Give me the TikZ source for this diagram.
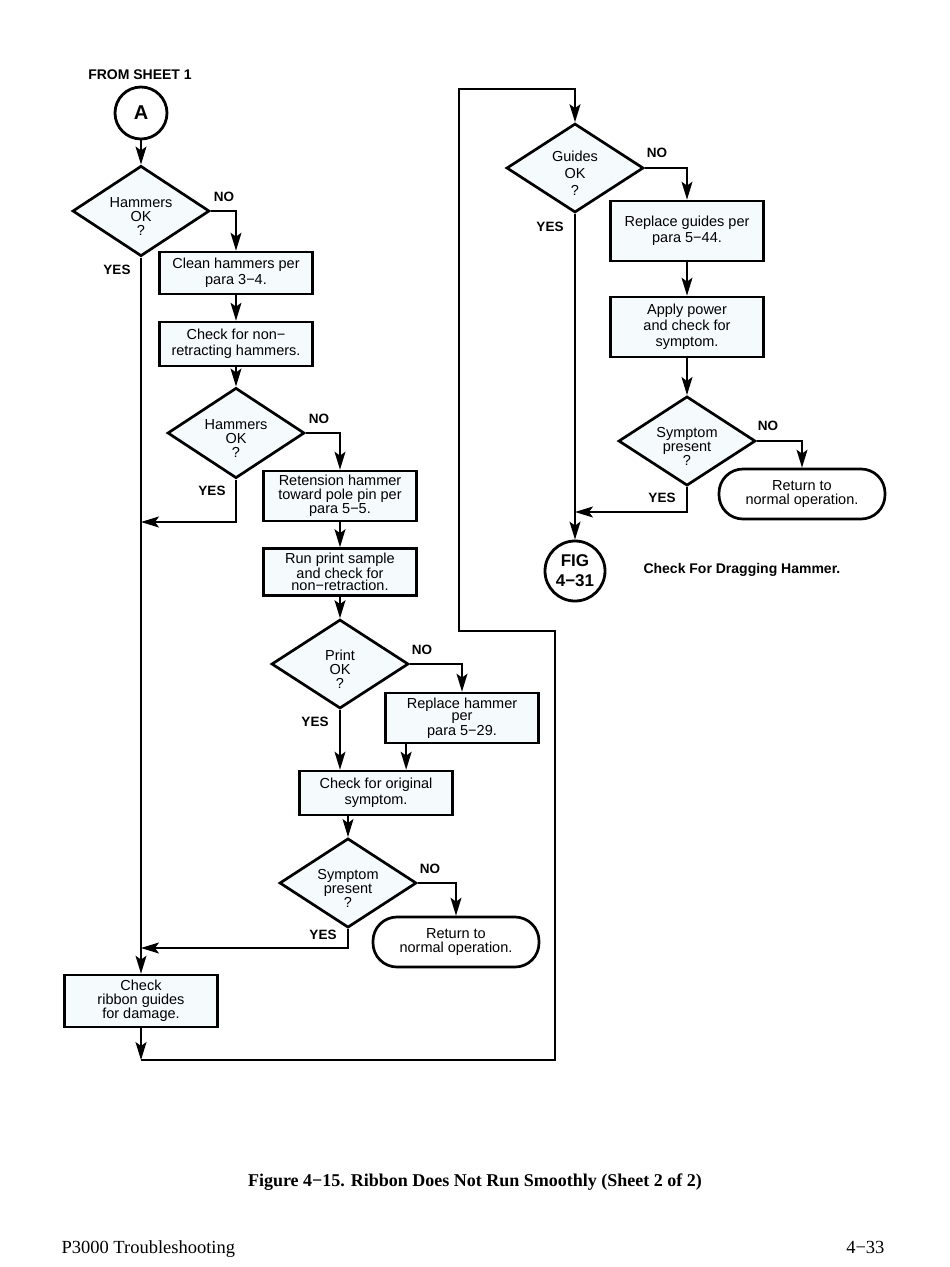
\documentclass[tikz,border=0pt]{standalone}
\usepackage{fontspec}
\setmainfont{Liberation Serif}
\setsansfont{Liberation Sans}
\usetikzlibrary{shapes.geometric,arrows.meta,calc}
\definecolor{boxfill}{RGB}{245,250,252}
\newcommand\fsz[2]{\fontsize{#1}{#2}\selectfont}
\newcommand\dtop{\rule{0pt}{20.5pt}}
\begin{document}
\begin{tikzpicture}[x=1pt,y=-1pt,
  every node/.style={font=\sffamily\fsz{14.5}{14.5}, align=center},
  proc/.style={draw, line width=2.7pt, fill=boxfill, inner sep=0pt, minimum width=153pt},
  dec/.style={draw, diamond, line width=2.7pt, fill=boxfill, inner sep=0pt, minimum width=137pt, minimum height=89pt, aspect=1.5, font=\sffamily\fsz{14.5}{14}},
  term/.style={draw, line width=2.7pt, fill=white, rounded corners=24pt, inner sep=0pt, minimum width=166pt, minimum height=50pt},
  lab/.style={font=\sffamily\bfseries\fsz{13.5}{14}},
  conn/.style={line width=1.4pt},
  arr/.style={conn, -{Stealth[length=18pt,width=11pt,inset=4pt]}},
]
\fill[white] (0,0) rectangle (950,1267);
\useasboundingbox (0,0) rectangle (950,1267);

% left column
\node[lab, font=\sffamily\bfseries\fsz{14}{14}] (from) at (140,75) {FROM SHEET 1};
\node[circle, draw, line width=2.8pt, minimum size=52pt, inner sep=0pt, font=\sffamily\bfseries\fsz{20}{20}] (A) at (141,113) {A};
\node[dec] (d1) at (141,211) {\dtop Hammers\\OK\\?};
\node[proc, minimum height=42pt, font=\sffamily\fsz{14.5}{16}] (b1) at (236,273) {Clean hammers per\\para 3−4.};
\node[proc, minimum height=44pt, font=\sffamily\fsz{14.5}{16}] (b2) at (236,344) {Check for non−\\retracting hammers.};
\node[dec] (d2) at (236,433) {\dtop Hammers\\OK\\?};
\node[proc, minimum height=50pt, font=\sffamily\fsz{14.5}{14}] (b3) at (340,496) {Retension hammer\\toward pole pin per\\para 5−5.};
\node[proc, minimum height=47pt, font=\sffamily\fsz{14.5}{12}] (b4) at (340,572) {Run print sample\\and check for\\non−retraction.};
\node[dec] (d3) at (340,664) {\dtop Print\\OK\\?};
\node[proc, minimum height=50pt, font=\sffamily\fsz{14.5}{12.5}] (b5) at (462,718) {Replace hammer\\per\\para 5−29.};
\node[proc, minimum height=44pt, font=\sffamily\fsz{14.5}{16}] (b6) at (376,793) {Check for original\\symptom.};
\node[dec] (d4) at (348,883) {\dtop Symptom\\present\\?};
\node[term, font=\sffamily\fsz{14.5}{13.5}] (t1) at (456,942) {Return to\\normal operation.};
\node[proc, minimum height=52pt, font=\sffamily\fsz{14.5}{13.5}] (b7) at (141,1001) {Check\\ribbon guides\\for damage.};

% right column
\node[dec, font=\sffamily\fsz{14.5}{17}] (g) at (575,168) {\dtop Guides\\OK\\?};
\node[proc, minimum height=60pt, font=\sffamily\fsz{14.5}{16}] (b8) at (687,231) {Replace guides per\\para 5−44.};
\node[proc, minimum height=60pt, font=\sffamily\fsz{14.5}{16}] (b9) at (687,327) {Apply power\\and check for\\symptom.};
\node[dec] (d5) at (687,441) {\dtop Symptom\\present\\?};
\node[term, font=\sffamily\fsz{14.5}{13.5}] (t2) at (802,494) {Return to\\normal operation.};
\node[circle, draw, line width=2.8pt, minimum size=60pt, inner sep=0pt, font=\sffamily\bfseries\fsz{17}{20}] (fig) at (575,571) {FIG\\4−31};
\node[lab, font=\sffamily\bfseries\fsz{14}{14}, anchor=west] (figlab) at (640,570) {Check For Dragging Hammer.};

% yes / no labels
\node[lab] (n1) at (224,197) {NO};
\node[lab] (y1) at (117,270) {YES};
\node[lab] (n2) at (319,419) {NO};
\node[lab] (y2) at (212,491) {YES};
\node[lab] (n3) at (422,650) {NO};
\node[lab] (y3) at (315,722) {YES};
\node[lab] (n4) at (430,869) {NO};
\node[lab] (y4) at (323,935) {YES};
\node[lab] (n5) at (657,153) {NO};
\node[lab] (y5) at (550,227) {YES};
\node[lab] (n6) at (768,426) {NO};
\node[lab] (y6) at (662,498) {YES};

% coordinates
\coordinate (j1) at (141,522);
\coordinate (j2) at (141,948);
\coordinate (j3) at (575,512);
\coordinate (c1) at (141,1060);
\coordinate (c2) at (555,1060);
\coordinate (c3) at (555,631);
\coordinate (c4) at (459,631);
\coordinate (c5) at (459,89);
\coordinate (c6) at (575,89);

% connectors
\draw[arr] (A) -- (d1);
\draw[arr] (d1.east) -| (b1.north);
\draw[arr] (d1.south) -- (b7.north);
\draw[arr] (b1) -- (b2);
\draw[arr] (b2) -- (d2);
\draw[arr] (d2.east) -| (b3.north);
\draw[arr] (d2.south) |- (j1);
\draw[arr] (b3) -- (b4);
\draw[arr] (b4) -- (d3);
\draw[arr] (d3.east) -| (b5.north);
\draw[arr] (d3.south) -- (d3.south |- b6.north);
\draw[arr] ([xshift=22pt]b5.south west) -- ([xshift=22pt]b5.south west |- b6.north);
\draw[arr] (b6.south -| d4.north) -- (d4.north);
\draw[arr] (d4.east) -| (t1.north);
\draw[arr] (d4.south) |- (j2);
\draw[arr] (b7.south) -- (c1);
\draw[arr, line width=1.2pt] (c1) -- (c2) -- (c3) -- (c4) -- (c5) -- (c6) -- (g.north);
\draw[arr] (g.east) -| (b8.north);
\draw[arr] (g.south) -- (fig.north);
\draw[arr] (b8) -- (b9);
\draw[arr] (b9) -- (d5);
\draw[arr] (d5.east) -| (t2.north);
\draw[arr] (d5.south) |- (j3);

% caption and footer
\node[font=\rmfamily\bfseries\fsz{18}{18}] (cap) at (475,1182) {Figure 4−15. Ribbon Does Not Run Smoothly (Sheet 2 of 2)};
\node[font=\rmfamily\fsz{18.5}{18.5}, anchor=base west] (foot1) at (58,1253) {P3000 Troubleshooting};
\node[font=\rmfamily\fsz{18.5}{18.5}, anchor=base east] (foot2) at (888,1253) {4−33};
\end{tikzpicture}
\end{document}
